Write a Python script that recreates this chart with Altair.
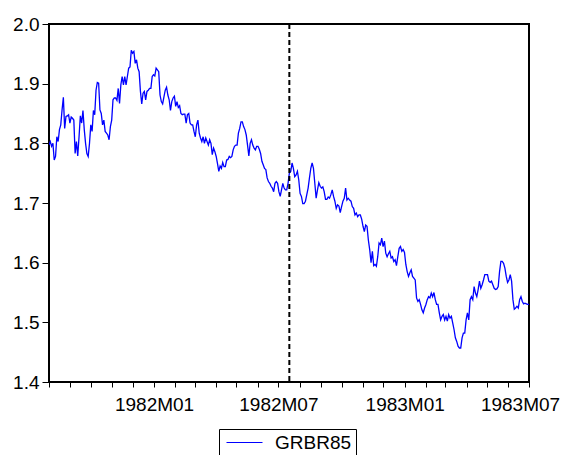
import altair as alt
import pandas as pd

# GRBR85 exchange-rate series
# segment before the vertical marker (1981-08-01 .. 1982-07-17)
values_a = [
    1.797, 1.803, 1.795, 1.800, 1.772, 1.778, 1.811, 1.803, 1.823, 1.831,
    1.856, 1.877, 1.825, 1.845, 1.846, 1.848, 1.834, 1.844, 1.842, 1.839,
    1.783, 1.803, 1.779, 1.811, 1.846, 1.834, 1.855, 1.823, 1.800, 1.783,
    1.778, 1.800, 1.831, 1.820, 1.855, 1.848, 1.889, 1.902, 1.901, 1.856,
    1.850, 1.831, 1.839, 1.820, 1.817, 1.814, 1.806, 1.828, 1.839, 1.873,
    1.876, 1.876, 1.872, 1.892, 1.867, 1.898, 1.912, 1.898, 1.912, 1.898,
    1.912, 1.926, 1.928, 1.956, 1.951, 1.954, 1.934, 1.940, 1.926, 1.920,
    1.887, 1.866, 1.884, 1.887, 1.873, 1.887, 1.889, 1.892, 1.892, 1.912,
    1.915, 1.913, 1.926, 1.923, 1.920, 1.881, 1.870, 1.866, 1.878, 1.889,
    1.894, 1.881, 1.873, 1.855, 1.870, 1.876, 1.879, 1.862, 1.870, 1.860,
    1.863, 1.850, 1.848, 1.849, 1.849, 1.834, 1.848, 1.850, 1.834, 1.831,
    1.831, 1.820, 1.811, 1.831, 1.839, 1.817, 1.809, 1.803, 1.811, 1.800,
    1.809, 1.803, 1.797, 1.806, 1.800, 1.781, 1.792, 1.786, 1.778, 1.766,
    1.753, 1.762, 1.758, 1.768, 1.761, 1.761, 1.772, 1.773, 1.778, 1.776,
    1.778, 1.789, 1.795, 1.797, 1.797, 1.817, 1.825, 1.836, 1.836, 1.828,
    1.823, 1.814, 1.797, 1.779, 1.800, 1.806, 1.797, 1.792, 1.789, 1.795,
    1.795, 1.790, 1.783, 1.770, 1.764, 1.758, 1.756, 1.742, 1.736, 1.733,
    1.728, 1.725, 1.719, 1.733, 1.736, 1.733, 1.719, 1.711, 1.722, 1.733,
    1.725, 1.722, 1.722, 1.733, 1.750,
]
# segment after the vertical marker (1982-07-19 .. 1983-07-01)
values_b = [
    1.753, 1.767, 1.758, 1.744, 1.747, 1.753, 1.739, 1.716, 1.711, 1.699,
    1.699, 1.703, 1.714, 1.725, 1.742, 1.758, 1.767, 1.758, 1.733, 1.708,
    1.722, 1.734, 1.728, 1.725, 1.727, 1.719, 1.706, 1.706, 1.710, 1.708,
    1.714, 1.722, 1.711, 1.703, 1.691, 1.697, 1.695, 1.684, 1.694, 1.703,
    1.708, 1.725, 1.705, 1.708, 1.705, 1.703, 1.694, 1.691, 1.680, 1.683,
    1.677, 1.680, 1.680, 1.673, 1.661, 1.652, 1.663, 1.661, 1.638, 1.622,
    1.600, 1.619, 1.595, 1.597, 1.594, 1.610, 1.633, 1.630, 1.641, 1.627,
    1.636, 1.616, 1.610, 1.615, 1.619, 1.608, 1.610, 1.602, 1.605, 1.595,
    1.610, 1.624, 1.627, 1.619, 1.622, 1.617, 1.597, 1.585, 1.577, 1.583,
    1.588, 1.577, 1.574, 1.571, 1.541, 1.535, 1.538, 1.530, 1.521, 1.516,
    1.524, 1.530, 1.538, 1.543, 1.541, 1.549, 1.543, 1.550, 1.538, 1.530,
    1.530, 1.516, 1.504, 1.510, 1.513, 1.504, 1.510, 1.502, 1.513, 1.507,
    1.510, 1.499, 1.488, 1.474, 1.468, 1.460, 1.457, 1.457, 1.474, 1.482,
    1.482, 1.504, 1.516, 1.504, 1.538, 1.543, 1.538, 1.560, 1.549, 1.543,
    1.555, 1.569, 1.557, 1.563, 1.571, 1.580, 1.580, 1.580, 1.569, 1.567,
    1.569, 1.563, 1.557, 1.555, 1.556, 1.560, 1.585, 1.602, 1.602, 1.599,
    1.591, 1.577, 1.567, 1.571, 1.580, 1.569, 1.538, 1.522, 1.524, 1.527,
    1.524, 1.538, 1.543, 1.535, 1.531, 1.532, 1.531, 1.530, 1.530,
]
seg_a_range = ("1981-08-01", "1982-07-17")
seg_b_range = ("1982-07-19", "1983-07-01")
marker_date = "1982-07-17"
series_name = "GRBR85"
y_ticks = [1.4, 1.5, 1.6, 1.7, 1.8, 1.9, 2.0]
x_start, x_end = "1981-08-01", "1983-07-01"


def ms(ts):
    return int(pd.Timestamp(ts, tz="UTC").value // 10**6)


dates_a = pd.date_range(seg_a_range[0], seg_a_range[1], periods=len(values_a), tz="UTC")
dates_b = pd.date_range(seg_b_range[0], seg_b_range[1], periods=len(values_b), tz="UTC")
df = pd.DataFrame({
    "date": [int(d.value // 10**6) for d in list(dates_a) + list(dates_b)],
    "value": values_a + values_b,
    "series": series_name,
})
marker = pd.DataFrame({"date": [ms(marker_date)]})

months = pd.date_range(x_start, x_end, freq="MS", tz="UTC")
tick_values = [int(m.value // 10**6) for m in months]

FONT = "Liberation Sans"
FS = 19

x_enc = alt.X(
    "date:T",
    scale=alt.Scale(type="utc", domain=[ms(x_start), ms(x_end)], nice=False),
    axis=alt.Axis(
        title=None, grid=False, domain=False, values=tick_values, tickCount=40,
        labelExpr="(utcmonth(datum.value) == 0 || utcmonth(datum.value) == 6) ? utcFormat(datum.value, '%YM%m') : ''",
        labelOffset={"condition": {"test": f"datum.value >= {ms(x_end)}", "value": -9}, "value": 0},
        tickSize=5, tickColor="black", labelColor="black", labelFont=FONT,
        labelFontSize=FS, labelPadding=8, labelOverlap=False, labelFlush=False,
    ),
)

line = alt.Chart(df).mark_line(strokeWidth=1.3, clip=True).encode(
    x=x_enc,
    y=alt.Y(
        "value:Q",
        scale=alt.Scale(domain=[1.4, 2.0], nice=False, zero=False),
        axis=alt.Axis(
            title=None, grid=False, domain=False, values=y_ticks, format=".1f",
            tickSize=7, tickColor="black", labelColor="black", labelFont=FONT,
            labelFontSize=FS, labelPadding=3,
        ),
    ),
    color=alt.Color(
        "series:N",
        scale=alt.Scale(domain=[series_name], range=["#0000FF"]),
        legend=alt.Legend(
            title=None, orient="none", legendX=170, legendY=405,
            symbolType="M-1,0H5", symbolSize=144, symbolStrokeWidth=1,
            labelFont=FONT, labelFontSize=FS, labelColor="black",
            labelOffset=33, padding=4, strokeColor="black", fillColor="white",
        ),
    ),
)

rule = alt.Chart(marker).mark_rule(color="black", strokeWidth=2, strokeDash=[5, 3]).encode(
    x="date:T"
)

chart = alt.layer(line, rule).properties(
    width=480, height=358,
    autosize=alt.AutoSizeParams(type="none"),
    padding={"left": 41, "top": 16, "right": 32, "bottom": 73},
    background="white",
).configure_view(stroke="black", strokeWidth=2)

chart.save("out.html", embed_options={"renderer": "svg", "actions": False})
